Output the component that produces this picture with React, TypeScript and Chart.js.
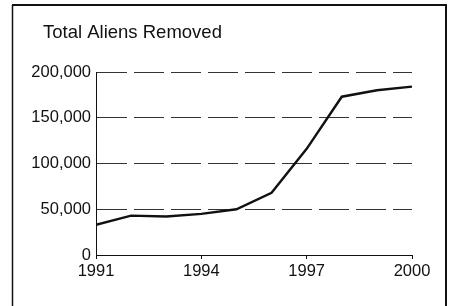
import React, { useEffect, useRef } from "react";
import { Chart, registerables } from "chart.js";

Chart.register(...registerables);

const chartTitle = "Total Aliens Removed";
const years = [1991, 1992, 1993, 1994, 1995, 1996, 1997, 1998, 1999, 2000];
const aliensRemoved = [33000, 43000, 42000, 45000, 50000, 68000, 116000, 173000, 180000, 184000];
const xTickValues = [1991, 1994, 1997, 2000];
const yTickValues = [0, 50000, 100000, 150000, 200000];

const FONT = "'Liberation Sans', Arial, Helvetica, sans-serif";

const framePlugin = {
  id: "frame",
  beforeDraw(chart: any) {
    const ctx = chart.ctx;
    ctx.save();
    ctx.fillStyle = "#ffffff";
    ctx.fillRect(0, 0, chart.width, chart.height);
    ctx.strokeStyle = "#111";
    ctx.lineWidth = 1.5;
    ctx.beginPath();
    ctx.moveTo(12.5, chart.height);
    ctx.lineTo(12.5, 5);
    ctx.stroke();
    ctx.lineWidth = 2;
    ctx.beginPath();
    ctx.moveTo(12, 5);
    ctx.lineTo(447, 5);
    ctx.moveTo(446, 4);
    ctx.lineTo(446, chart.height);
    ctx.stroke();
    ctx.fillStyle = "#111";
    ctx.font = `18.5px ${FONT}`;
    ctx.textBaseline = "alphabetic";
    ctx.textAlign = "left";
    ctx.fillText(chartTitle, 43, 38);
    ctx.restore();
  },
};

export default function App() {
  const canvasRef = useRef<HTMLCanvasElement | null>(null);

  useEffect(() => {
    document.body.style.margin = "0";
    const canvas = canvasRef.current;
    if (!canvas) return;
    const chart = new Chart(canvas, {
      type: "line",
      data: {
        datasets: [
          {
            data: years.map((y, i) => ({ x: y, y: aliensRemoved[i] })),
            borderColor: "#111",
            borderWidth: 2.4,
            pointRadius: 0,
            tension: 0,
            fill: false,
          },
        ],
      },
      options: {
        responsive: false,
        animation: false,
        devicePixelRatio: 1,
        layout: { padding: { left: 0, right: 40, top: 72, bottom: 0 } },
        plugins: {
          legend: { display: false },
          tooltip: { enabled: false },
          title: { display: false },
        },
        scales: {
          x: {
            type: "linear",
            min: 1991,
            max: 2000,
            afterBuildTicks(scale: any) {
              scale.ticks = xTickValues.map((v) => ({ value: v }));
            },
            afterFit(scale: any) {
              scale.height = 51;
            },
            grid: {
              drawOnChartArea: false,
              drawTicks: true,
              tickLength: 4,
              color: "#111",
            },
            border: { display: true, color: "#111", width: 1 },
            ticks: {
              color: "#111",
              font: { family: FONT, size: 16.5 },
              padding: 3,
              maxRotation: 0,
              autoSkip: false,
              callback: (v: any) => String(v),
            },
          },
          y: {
            type: "linear",
            min: 0,
            max: 200000,
            afterBuildTicks(scale: any) {
              scale.ticks = yTickValues.map((v) => ({ value: v }));
            },
            afterFit(scale: any) {
              scale.width = 96;
            },
            grid: {
              drawTicks: false,
              color: (c: any) => (c.tick && c.tick.value === 0 ? "rgba(0,0,0,0)" : "#333"),
              lineWidth: 1,
            },
            border: { display: true, color: "#111", width: 1, dash: [30, 7] },
            ticks: {
              color: "#111",
              font: { family: FONT, size: 16.5 },
              padding: 5,
              callback: (v: any) => Number(v).toLocaleString("en-US"),
            },
          },
        },
      },
      plugins: [framePlugin],
    });
    return () => chart.destroy();
  }, []);

  return <canvas ref={canvasRef} width={452} height={306} style={{ display: "block" }} />;
}
